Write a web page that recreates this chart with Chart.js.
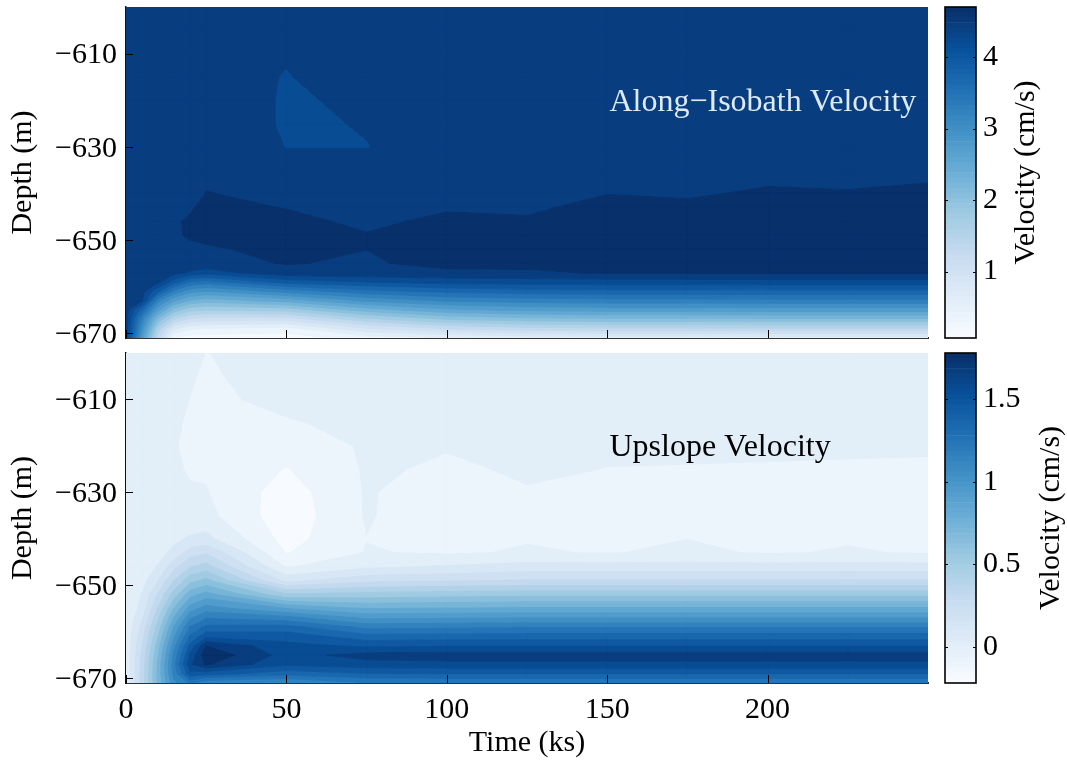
<!DOCTYPE html>
<html><head><meta charset="utf-8">
<script src="https://cdn.jsdelivr.net/npm/chart.js@4/dist/chart.umd.min.js"></script>
<style>
html,body{margin:0;padding:0;background:#fff;width:1067px;height:763px;overflow:hidden;}
canvas{position:absolute;}
</style></head><body>
<canvas id="mainTop" width="940" height="345" style="left:0px;top:0px"></canvas>
<canvas id="mainBot" width="940" height="417" style="left:0px;top:346px"></canvas>
<canvas id="cbTop" width="127" height="345" style="left:940px;top:0px"></canvas>
<canvas id="cbBot" width="127" height="345" style="left:940px;top:346px"></canvas>
<script>
// ---------------- data ----------------
const timeKs = [0,5,10,15,20,25,50,75,100,125,150,175,200,225,250];
const depthM = [-600,-605,-610,-615,-620,-625,-630,-635,-640,-643,-646,-649,-652,-655,-657,-659,-661,-663,-665,-667,-669,-671];

// Along-isobath velocity (cm/s): one profile (over depthM) per time column
const along_t000 = [4.36,4.36,4.36,4.36,4.36,4.36,4.36,4.36,4.36,4.36,4.36,4.36,4.36,4.36,4.36,4.36,4.36,4.36,4.36,4.36,4.36,4.25];
const along_t005 = [4.36,4.36,4.36,4.36,4.36,4.36,4.36,4.36,4.36,4.36,4.36,4.36,4.36,4.36,4.37,4.36,4.32,4.26,3.65,3.18,2.95,2.70];
const along_t010 = [4.36,4.36,4.36,4.36,4.36,4.36,4.36,4.36,4.36,4.36,4.36,4.36,4.36,4.36,4.36,4.30,3.83,3.17,2.67,2.11,1.61,1.30];
const along_t015 = [4.36,4.36,4.36,4.36,4.36,4.36,4.36,4.36,4.36,4.36,4.45,4.45,4.40,4.37,4.33,3.87,3.22,2.63,2.04,1.45,0.80,0.30];
const along_t020 = [4.36,4.36,4.36,4.36,4.36,4.36,4.36,4.36,4.36,4.45,4.49,4.485,4.44,4.40,4.20,3.52,2.92,2.35,1.76,1.15,0.56,0.18];
const along_t025 = [4.36,4.37,4.38,4.40,4.46,4.46,4.40,4.42,4.475,4.52,4.55,4.52,4.44,4.40,4.12,3.43,2.82,2.25,1.69,1.09,0.51,0.16];
const along_t050 = [4.33,4.30,4.27,4.22,4.20,4.20,4.232,4.30,4.42,4.462,4.52,4.55,4.53,4.48,4.40,3.86,3.16,2.46,1.76,1.06,0.43,0.18];
const along_t075 = [4.35,4.38,4.41,4.43,4.29,4.25,4.232,4.30,4.38,4.40,4.43,4.48,4.47,4.44,4.42,4.00,3.45,2.88,2.25,1.60,0.95,0.40];
const along_t100 = [4.36,4.36,4.36,4.36,4.35,4.34,4.33,4.38,4.42,4.45,4.51,4.55,4.56,4.54,4.42,4.10,3.60,3.10,2.55,1.92,1.22,0.50];
const along_t125 = [4.36,4.36,4.36,4.36,4.36,4.36,4.36,4.38,4.41,4.44,4.49,4.54,4.56,4.54,4.43,4.12,3.66,3.18,2.66,2.04,1.36,0.58];
const along_t150 = [4.36,4.36,4.36,4.36,4.36,4.36,4.36,4.40,4.465,4.52,4.55,4.56,4.56,4.55,4.49,4.13,3.69,3.22,2.70,2.08,1.40,0.60];
const along_t175 = [4.36,4.36,4.36,4.36,4.36,4.36,4.36,4.39,4.45,4.50,4.54,4.56,4.56,4.55,4.50,4.13,3.69,3.22,2.70,2.08,1.40,0.60];
const along_t200 = [4.36,4.36,4.36,4.36,4.36,4.36,4.37,4.42,4.49,4.53,4.56,4.57,4.57,4.55,4.50,4.14,3.70,3.23,2.71,2.09,1.41,0.62];
const along_t225 = [4.36,4.36,4.36,4.36,4.36,4.36,4.37,4.41,4.48,4.53,4.56,4.57,4.57,4.55,4.50,4.14,3.70,3.23,2.71,2.09,1.41,0.62];
const along_t250 = [4.36,4.36,4.36,4.36,4.36,4.36,4.37,4.43,4.50,4.54,4.56,4.57,4.57,4.55,4.50,4.14,3.70,3.23,2.71,2.09,1.41,0.62];

// Upslope velocity (cm/s)
const up_t000 = [0,0,0,0,0,0,0,0,0,0,0,0,0,0,0,0,0,0,0,0,0,0];
const up_t005 = [0,0,0,0,0,0,0,0,0,0,0.01,0.04,0.085,0.11,0.16,0.21,0.24,0.275,0.30,0.31,0.32,0.32];
const up_t010 = [0,0,0,0,0,0,0,0,0.008,0.04,0.09,0.18,0.295,0.39,0.46,0.52,0.58,0.63,0.67,0.70,0.71,0.70];
const up_t015 = [0,0,-0.005,-0.01,-0.015,-0.008,0,0,0.056,0.11,0.25,0.385,0.53,0.69,0.79,0.89,0.97,1.05,1.11,1.14,1.12,1.05];
const up_t020 = [-0.005,-0.016,-0.021,-0.03,-0.035,-0.028,-0.012,-0.005,0.096,0.23,0.375,0.545,0.745,0.93,1.065,1.19,1.30,1.41,1.50,1.56,1.45,1.20];
const up_t025 = [-0.021,-0.026,-0.032,-0.04,-0.04,-0.03,-0.015,0.01,0.11,0.27,0.42,0.61,0.82,1.03,1.17,1.31,1.45,1.68,1.76,1.69,1.42,1.08];
const up_t050 = [0,0,-0.005,-0.025,-0.08,-0.125,-0.17,-0.185,-0.16,-0.125,-0.03,0.15,0.50,0.88,1.12,1.32,1.44,1.51,1.54,1.50,1.32,1.05];
const up_t075 = [0,0,-0.002,-0.005,-0.008,-0.01,-0.012,-0.012,-0.022,-0.015,0.06,0.25,0.52,0.78,0.96,1.15,1.32,1.46,1.62,1.54,1.37,1.17];
const up_t100 = [0,0,-0.005,-0.01,-0.016,-0.03,-0.07,-0.08,-0.06,-0.03,0.09,0.27,0.54,0.79,0.97,1.16,1.33,1.47,1.63,1.55,1.38,1.18];
const up_t125 = [0,0,-0.003,-0.006,-0.009,-0.012,-0.024,-0.04,-0.025,-0.012,0.12,0.29,0.55,0.80,0.98,1.17,1.33,1.47,1.63,1.55,1.38,1.18];
const up_t150 = [0,0,-0.004,-0.008,-0.012,-0.021,-0.04,-0.045,-0.04,-0.025,0.12,0.29,0.55,0.80,0.98,1.17,1.33,1.47,1.63,1.55,1.38,1.18];
const up_t175 = [0,0,-0.004,-0.008,-0.013,-0.022,-0.04,-0.04,-0.021,0.0,0.12,0.29,0.55,0.80,0.98,1.17,1.33,1.47,1.63,1.55,1.38,1.18];
const up_t200 = [0,0,-0.004,-0.008,-0.014,-0.023,-0.04,-0.045,-0.04,-0.03,0.12,0.29,0.55,0.80,0.98,1.17,1.33,1.47,1.63,1.55,1.38,1.18];
const up_t225 = [0,0,-0.005,-0.01,-0.015,-0.024,-0.04,-0.042,-0.03,-0.01,0.12,0.29,0.55,0.80,0.98,1.17,1.33,1.47,1.63,1.55,1.38,1.18];
const up_t250 = [0,0,-0.005,-0.01,-0.016,-0.025,-0.04,-0.045,-0.04,-0.03,0.12,0.29,0.55,0.80,0.98,1.17,1.33,1.47,1.63,1.55,1.38,1.18];

const alongProfiles = [along_t000,along_t005,along_t010,along_t015,along_t020,along_t025,along_t050,along_t075,along_t100,along_t125,along_t150,along_t175,along_t200,along_t225,along_t250];
const upProfiles = [up_t000,up_t005,up_t010,up_t015,up_t020,up_t025,up_t050,up_t075,up_t100,up_t125,up_t150,up_t175,up_t200,up_t225,up_t250];

// colour ranges (colorbar limits) and ticks
const alongRange = [0.07, 4.70];
const upRange = [-0.22, 1.78];
const timeTicks = [0,50,100,150,200];
const depthTicks = [-670,-650,-630,-610];
const alongCbTicks = [1,2,3,4];
const upCbTicks = [0,0.5,1,1.5];
const N_BANDS = 20;      // filled contour levels
const CB_STEPS = 64;     // colormap entries shown in colorbar

// ---------------- helpers ----------------
const FONT = '"Liberation Serif", "Times New Roman", Times, serif';
const BLUES = [[247,251,255],[222,235,247],[198,219,239],[158,202,225],[107,174,214],[66,146,198],[33,113,181],[8,81,156],[8,48,107]];
function blues(f){
  f = Math.max(0, Math.min(1, f));
  const p = f * 8, i = Math.min(7, Math.floor(p)), u = p - i;
  const a = BLUES[i], b = BLUES[i+1];
  return 'rgb(' + Math.round(a[0]+(b[0]-a[0])*u) + ',' + Math.round(a[1]+(b[1]-a[1])*u) + ',' + Math.round(a[2]+(b[2]-a[2])*u) + ')';
}
function levelsFor(r){ const out=[]; for(let k=0;k<=N_BANDS;k++) out.push(r[0]+k*(r[1]-r[0])/N_BANDS); return out; }
const bandColors = []; for (let k=0;k<N_BANDS;k++) bandColors.push(blues(k/(N_BANDS-1)));
const minus = v => String(v).replace('-', '\u2212');

// polygon of the part of a grid cell whose value lies in [lo,hi] (edge-linear, as in filled contours)
function bandPolygon(P, lo, hi){
  const out = [];
  for (let e=0;e<4;e++){
    const a = P[e], b = P[(e+1)%4];
    if (a.v >= lo && a.v <= hi) out.push(a);
    const cs = [];
    for (const L of [lo, hi]){
      if (!isFinite(L)) continue;
      if ((a.v < L && b.v > L) || (a.v > L && b.v < L)){
        const s = (L - a.v) / (b.v - a.v);
        cs.push({s, x: a.x + s*(b.x-a.x), y: a.y + s*(b.y-a.y)});
      }
    }
    cs.sort((p,q)=>p.s-q.s);
    for (const c of cs) out.push(c);
  }
  return out;
}

const contourPlugin = {
  id: 'contourFill',
  beforeDatasetsDraw(chart, args, o){
    const els = chart.getDatasetMeta(0).data;
    const raw = chart.data.datasets[0].data;
    const nD = depthM.length, nT = timeKs.length;
    const lv = o.levels, cols = bandColors;
    const ctx = chart.ctx, a = chart.chartArea;
    ctx.save();
    ctx.beginPath(); ctx.rect(a.left, a.top, a.right-a.left, a.bottom-a.top); ctx.clip();
    ctx.lineJoin = 'round'; ctx.lineWidth = 1;
    for (let k=0;k<cols.length;k++){
      const lo = k===0 ? -Infinity : lv[k];
      const hi = k===cols.length-1 ? Infinity : lv[k+1];
      ctx.fillStyle = cols[k]; ctx.strokeStyle = cols[k];
      ctx.beginPath();
      let any = false;
      for (let i=0;i<nT-1;i++) for (let j=0;j<nD-1;j++){
        const ids = [i*nD+j, (i+1)*nD+j, (i+1)*nD+j+1, i*nD+j+1];
        const P = ids.map(q => ({x: els[q].x, y: els[q].y, v: raw[q].v}));
        const poly = bandPolygon(P, lo, hi);
        if (poly.length < 3) continue;
        any = true;
        ctx.moveTo(poly[0].x, poly[0].y);
        for (let m=1;m<poly.length;m++) ctx.lineTo(poly[m].x, poly[m].y);
        ctx.closePath();
      }
      if (any){ ctx.fill(); ctx.stroke(); }
    }
    ctx.restore();
  }
};

const decoPlugin = {
  id: 'deco',
  afterDraw(chart, args, o){
    const {ctx, chartArea: a, scales: {x, y}} = chart;
    ctx.save();
    ctx.strokeStyle = '#000'; ctx.lineWidth = 1;
    depthTicks.forEach(v => { const py = Math.round(y.getPixelForValue(v)) + 0.5; ctx.beginPath(); ctx.moveTo(a.left, py); ctx.lineTo(a.left+7, py); ctx.stroke(); });
    timeTicks.forEach(v => { const px = Math.round(x.getPixelForValue(v)) + 0.5; ctx.beginPath(); ctx.moveTo(px, a.bottom); ctx.lineTo(px, a.bottom-8); ctx.stroke(); });
    ctx.font = '32px ' + FONT; ctx.fillStyle = o.color; ctx.textAlign = 'left'; ctx.textBaseline = 'alphabetic';
    ctx.fillText(o.text, x.getPixelForValue(o.at[0]), y.getPixelForValue(o.at[1]));
    ctx.restore();
  }
};

const cbarPlugin = {
  id: 'cbarDeco',
  afterDraw(chart, args, o){
    const {ctx, chartArea: a, scales: {y}} = chart;
    ctx.save();
    ctx.strokeStyle = '#000'; ctx.lineWidth = 1;
    o.ticks.forEach(v => {
      const py = Math.round(y.getPixelForValue(v)) + 0.5;
      ctx.beginPath(); ctx.moveTo(a.left, py); ctx.lineTo(a.left+3, py); ctx.moveTo(a.right, py); ctx.lineTo(a.right-3, py); ctx.stroke();
    });
    ctx.lineWidth = 1.6;
    ctx.strokeRect(a.left, a.top, a.right-a.left, a.bottom-a.top);
    ctx.translate(o.labelX, (a.top+a.bottom)/2);
    ctx.rotate(-Math.PI/2);
    ctx.font = '30px ' + FONT; ctx.fillStyle = '#000'; ctx.textAlign = 'center'; ctx.textBaseline = 'alphabetic';
    ctx.fillText('Velocity (cm/s)', 0, 0);
    ctx.restore();
  }
};

function makeMain(id, profiles, range, showX, label, labelColor, labelAt, padTop, xHeight){
  const nodes = [];
  timeKs.forEach((t,i) => depthM.forEach((d,j) => nodes.push({x: t, y: d, v: profiles[i][j]})));
  const tickFont = {family: FONT, size: 30};
  return new Chart(document.getElementById(id), {
    type: 'scatter',
    data: { datasets: [{ data: nodes, pointRadius: 0, pointHoverRadius: 0, showLine: false }] },
    options: {
      responsive: false, animation: false, events: [], devicePixelRatio: 1,
      layout: { padding: { top: padTop, right: 12, left: 0, bottom: 0 } },
      plugins: {
        legend: {display: false}, tooltip: {enabled: false},
        contourFill: { levels: levelsFor(range) },
        deco: { text: label, color: labelColor, at: labelAt }
      },
      scales: {
        x: {
          type: 'linear', min: 0, max: 250,
          afterBuildTicks: s => { s.ticks = timeTicks.map(v => ({value: v})); },
          ticks: { display: showX, font: tickFont, color: '#000', padding: 9, maxRotation: 0, autoSkip: false },
          grid: { display: false, drawTicks: false },
          border: { display: true, color: '#333', width: 2 },
          title: { display: showX, text: 'Time (ks)', font: tickFont, color: '#000', padding: {top: 0, bottom: 2} },
          afterFit: s => { s.height = xHeight; s.paddingLeft = 0; s.paddingRight = 0; }
        },
        y: {
          type: 'linear', min: -671, max: -600,
          afterBuildTicks: s => { s.ticks = depthTicks.map(v => ({value: v})); },
          ticks: { font: tickFont, color: '#000', padding: 9, labelOffset: 2, callback: v => minus(v) },
          grid: { display: false, drawTicks: false },
          border: { display: true, color: '#111', width: 1.5 },
          title: { display: true, text: 'Depth (m)', font: tickFont, color: '#000', padding: {top: 5, bottom: 0} },
          afterFit: s => { s.width = 126; s.paddingTop = 0; s.paddingBottom = 0; }
        }
      }
    },
    plugins: [contourPlugin, decoPlugin]
  });
}

function makeCbar(id, range, ticksArr, padBottom, labelX){
  const step = (range[1]-range[0]) / CB_STEPS;
  const ds = [];
  for (let i=0;i<CB_STEPS;i++){
    const lo = range[0] + i*step;
    ds.push({ data: [[lo, lo+step]], backgroundColor: blues(i/(CB_STEPS-1)), borderWidth: 0, grouped: false, barPercentage: 1, categoryPercentage: 1 });
  }
  return new Chart(document.getElementById(id), {
    type: 'bar',
    data: { labels: ['v'], datasets: ds },
    options: {
      responsive: false, animation: false, events: [], devicePixelRatio: 1,
      layout: { padding: { left: 5, top: 7, bottom: padBottom, right: 0 } },
      plugins: { legend: {display: false}, tooltip: {enabled: false}, cbarDeco: { ticks: ticksArr, labelX: labelX } },
      scales: {
        x: { display: false },
        y: {
          position: 'right', min: range[0], max: range[1],
          afterBuildTicks: s => { s.ticks = ticksArr.map(v => ({value: v})); },
          ticks: { font: {family: FONT, size: 30}, color: '#000', padding: 7, callback: v => minus(v) },
          grid: { display: false, drawTicks: false },
          border: { display: false },
          afterFit: s => { s.width = 91; s.paddingTop = 0; s.paddingBottom = 0; }
        }
      }
    },
    plugins: [cbarPlugin]
  });
}

makeMain('mainTop', alongProfiles, alongRange, false, 'Along\u2212Isobath Velocity', 'rgb(222,234,247)', [150.7, -622.4], 7, 7);
makeMain('mainBot', upProfiles, upRange, true, 'Upslope Velocity', '#000', [150.7, -622.1], 7, 80);
makeCbar('cbTop', alongRange, alongCbTicks, 7, 93.5);
makeCbar('cbBot', upRange, upCbTicks, 8, 119);
</script>
</body></html>
